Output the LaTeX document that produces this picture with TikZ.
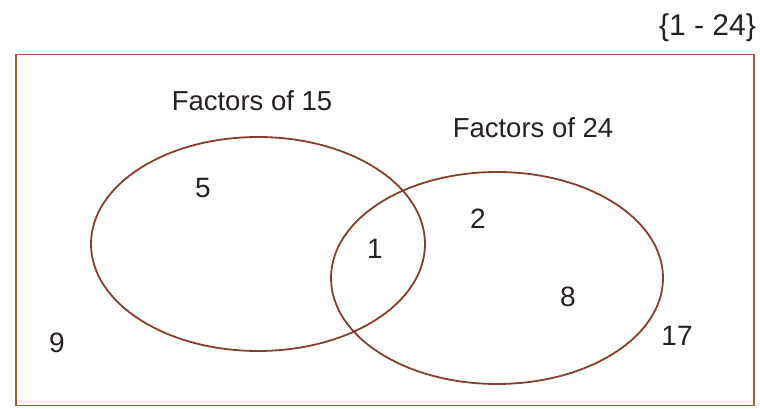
\documentclass[tikz,border=0pt]{standalone}
\usepackage{fontspec}
\setmainfont{Liberation Sans}
\usepackage{xcolor}
\usepackage{tikz}
\usetikzlibrary{positioning,shapes.geometric}
\definecolor{rust}{RGB}{135,62,42}
\definecolor{frame2}{RGB}{170,90,50}
\definecolor{ink}{RGB}{38,32,30}
\tikzset{
  setring/.style={ellipse, draw=rust, line width=1.8pt, inner sep=0pt, outer sep=0pt},
  setlabel/.style={text=ink, font=\fontsize{27.5}{30}\selectfont, inner sep=0pt},
  elem/.style={text=ink, font=\fontsize{28}{31}\selectfont, inner sep=0pt}
}

\begin{document}
\begin{tikzpicture}[x=1pt, y=-1pt]
\useasboundingbox (0,0) rectangle (760,409);
\node[draw=frame2, line width=1.5pt, minimum width=738pt, minimum height=351pt, inner sep=0pt] (univ) at (385,230) {};
\node[elem, anchor=east, font=\fontsize{30}{33}\selectfont] (range) at (756,28) {\{1 - 24\}};

\node[setring, minimum width=334pt, minimum height=214pt] (f15) at (258,244) {};
\node[setring, minimum width=332pt, minimum height=212pt] (f24) at (497,278) {};

\node[setlabel] (lab15) at (252,101) {Factors of 15};
\node[setlabel] (lab24) at (533,128) {Factors of 24};

\node[elem] (n5) at (203,188) {5};
\node[elem] (n1) at (375,249) {1};
\node[elem] (n2) at (478,219) {2};
\node[elem] (n8) at (568,297) {8};
\node[elem] (n9) at (57,343) {9};
\node[elem] (n17) at (677,336) {17};
\end{tikzpicture}
\end{document}
